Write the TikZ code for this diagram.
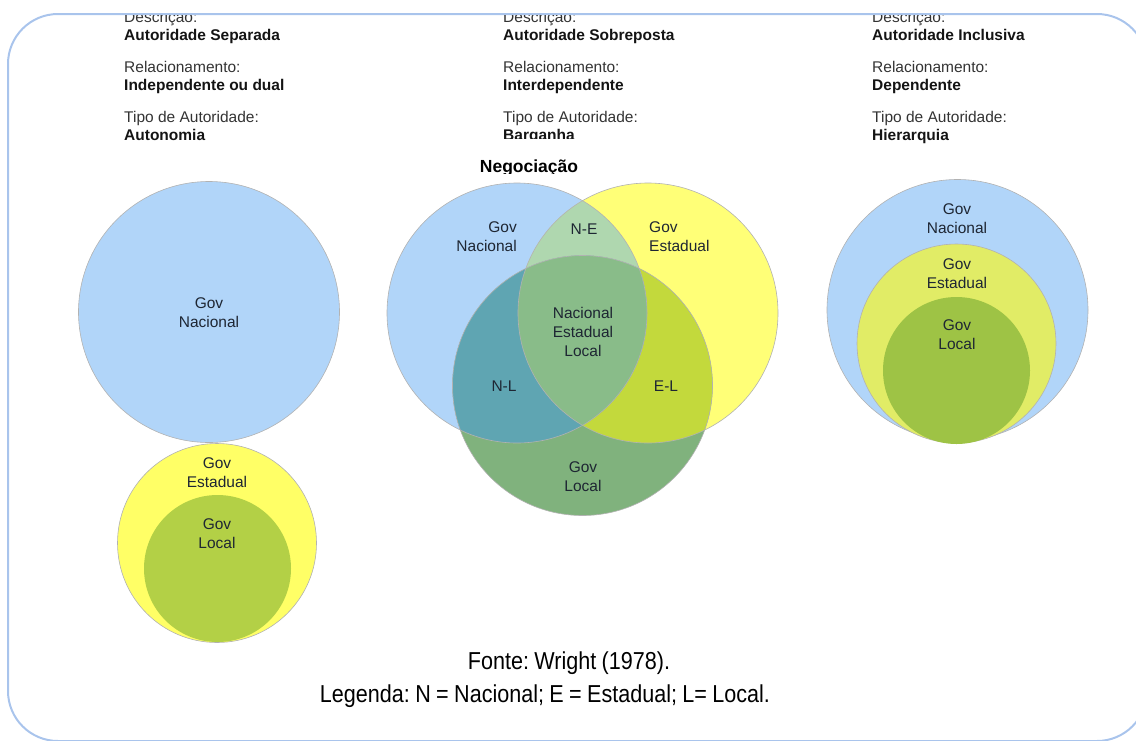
\documentclass[tikz,border=0pt]{standalone}
\usepackage{fontspec}
\setmainfont{Liberation Sans}
\newfontfamily\legfont[FakeStretch=0.88,WordSpace=0.9]{Liberation Sans}
\usepackage{xcolor}
\usepackage{tikz}
\usetikzlibrary{positioning}
\frenchspacing

\definecolor{framecol}{HTML}{A9C4EC}
\definecolor{nacblue}{HTML}{B1D5F9}
\definecolor{estyel}{HTML}{FFFF77}
\definecolor{locgrn}{HTML}{80B27D}
\definecolor{negrn}{HTML}{AFD7AF}
\definecolor{nlteal}{HTML}{5FA5B2}
\definecolor{ellime}{HTML}{C3D93C}
\definecolor{nelgrn}{HTML}{89BC89}
\definecolor{incyel}{HTML}{E1EC66}
\definecolor{incgrn}{HTML}{9EC345}
\definecolor{sepyel}{HTML}{FFFF66}
\definecolor{sepgrn}{HTML}{B3D046}
\definecolor{inktxt}{HTML}{1E2633}

\begin{document}
\begin{tikzpicture}[x=1pt,y=-1pt,
  gov/.style={circle,draw=black!30,line width=0.6pt,inner sep=0},
  edge/.style={draw=black!30,line width=0.6pt},
  lbl/.style={align=center,inner sep=0,text=inktxt,font=\fontsize{15.5}{19}\selectfont},
  hdr/.style={anchor=base west,inner sep=0,text=black!80,font=\fontsize{15.5}{19}\selectfont},
  hdv/.style={hdr,text=black!92,font=\fontsize{15.5}{19}\selectfont\bfseries},
  leg/.style={inner sep=0,anchor=base,font=\legfont\fontsize{24.5}{30}\selectfont\frenchspacing}]
  \useasboundingbox (0,0) rectangle (1136,740);
  \draw[framecol,line width=2pt,rounded corners=50pt] (8,14) rectangle (1147,741);

  % header columns
  \begin{scope}
    \clip (0,15) rectangle (1136,740);
    \foreach \c/\x/\d/\r in {1/124/Autoridade Separada/Independente ou dual,
                              2/503/Autoridade Sobreposta/Interdependente,
                              3/872/Autoridade Inclusiva/Dependente} {
      \node[hdr] (desc\c) at (\x,22) {Descrição:};
      \node[hdv] (descv\c) at (\x,40.5) {\d};
      \node[hdr] (rel\c) at (\x,72) {Relacionamento:};
      \node[hdv] (relv\c) at (\x,90.5) {\r};
      \node[hdr] (tipo\c) at (\x,122) {Tipo de Autoridade:};
    }
  \end{scope}
  \node[hdv] (tipov1) at (124,140) {Autonomia};
  \node[hdv] (tipov3) at (872,140) {Hierarquia};
  \begin{scope}
    \clip (0,0) rectangle (1136,138.5);
    \node[hdv] (tipov2) at (503,140) {Barganha};
  \end{scope}

  % separada
  \node[gov,fill=nacblue,minimum size=261pt] (sepN) at (209,312) {};
  \node[gov,fill=sepyel,minimum size=199pt] (sepE) at (217,543) {};
  \node[gov,fill=sepgrn,draw=none,minimum size=147pt] (sepL) at (217.5,568.5) {};
  \node[lbl] (tsepN) at (209,312.5) {Gov\\Nacional};
  \node[lbl] (tsepE) at (217,472.5) {Gov\\Estadual};
  \node[lbl] (tsepL) at (217,533.5) {Gov\\Local};

  % sobreposta
  \begin{scope}
    \clip (0,0) rectangle (1136,173);
    \node[inner sep=0,anchor=base,font=\fontsize{17.5}{20}\selectfont\bfseries] (neg) at (529,172) {Negociação};
  \end{scope}
  \coordinate (cN) at (517,313);
  \coordinate (cE) at (648,313);
  \coordinate (cL) at (582.5,385.5);
  \fill[nacblue] (cN) circle (130pt);
  \fill[estyel] (cE) circle (130pt);
  \fill[locgrn] (cL) circle (130pt);
  \begin{scope}
    \clip (cE) circle (130pt);
    \fill[ellime] (cL) circle (130pt);
  \end{scope}
  \begin{scope}
    \clip (cN) circle (130pt);
    \fill[negrn] (cE) circle (130pt);
    \fill[nlteal] (cL) circle (130pt);
    \clip (cE) circle (130pt);
    \fill[nelgrn] (cL) circle (130pt);
  \end{scope}
  \foreach \p in {cN,cE,cL} {\draw[edge] (\p) circle (130pt);}
  \node[lbl,align=right,anchor=east] (tN) at (517,236.5) {Gov\\Nacional};
  \node[lbl,align=left,anchor=west] (tE) at (649,236.5) {Gov\\Estadual};
  \node[lbl] (tNE) at (584,229) {N-E};
  \node[lbl] (tNEL) at (583,332) {Nacional\\Estadual\\Local};
  \node[lbl] (tNL) at (504,386) {N-L};
  \node[lbl] (tEL) at (666,386) {E-L};
  \node[lbl] (tL) at (583,476.5) {Gov\\Local};

  % inclusiva
  \node[gov,fill=nacblue,minimum size=261pt] (incN) at (957.5,310) {};
  \node[gov,fill=incyel,minimum size=199pt] (incE) at (956.5,343.5) {};
  \node[gov,fill=incgrn,draw=none,minimum size=147pt] (incL) at (956.5,370.5) {};
  \node[lbl] (tincN) at (957,218.5) {Gov\\Nacional};
  \node[lbl] (tincE) at (957,274) {Gov\\Estadual};
  \node[lbl] (tincL) at (957,334.5) {Gov\\Local};

  \node[leg] (fonte) at (569,669) {Fonte: Wright (1978).};
  \node[leg] (legenda) at (545,702) {Legenda: N = Nacional; E = Estadual; L= Local.};
\end{tikzpicture}
\end{document}
